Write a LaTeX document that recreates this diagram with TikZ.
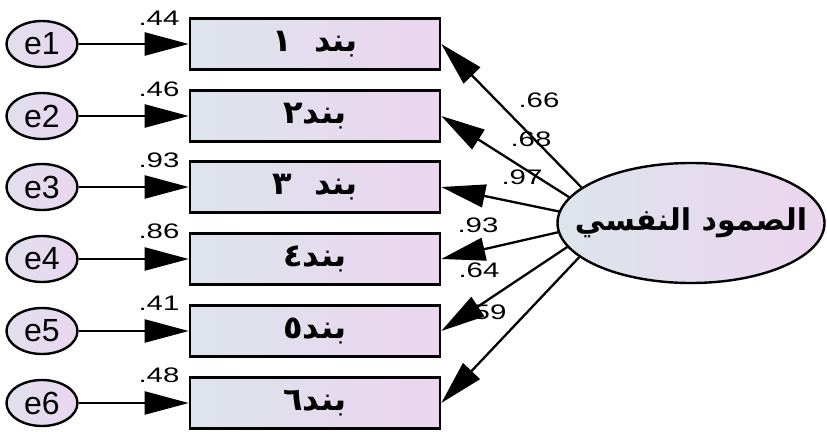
\documentclass[tikz,border=0pt]{standalone}
\usepackage{graphicx}
\usepackage{fontspec}
\setmainfont{Liberation Sans}
\newfontfamily\arabicfont[Script=Arabic]{DejaVu Sans}
\TeXXeTstate=1
\usetikzlibrary{arrows.meta,shapes.geometric}
\definecolor{boxL}{HTML}{DDE4EC}
\definecolor{boxR}{HTML}{ECD5EF}
\definecolor{errL}{HTML}{E0E0EE}
\definecolor{errR}{HTML}{EAD6EF}
\newcommand\widenum[1]{\scalebox{1.4}[1]{#1}}
\begin{document}
\begin{tikzpicture}[x=1pt,y=-1pt,
  err/.style={ellipse, draw, line width=2.4pt, minimum width=71pt, minimum height=46pt, inner sep=0pt, left color=errL, right color=errR, font=\fontsize{32}{32}\selectfont},
  item/.style={rectangle, draw, line width=2.6pt, minimum width=250pt, minimum height=51pt, inner sep=0pt, left color=boxL, right color=boxR, font=\arabicfont\bfseries\fontsize{32}{32}\selectfont},
  lat/.style={ellipse, draw, line width=2.4pt, minimum width=267pt, minimum height=120pt, inner sep=0pt, left color=boxL, right color=boxR, font=\arabicfont\bfseries\fontsize{30}{30}\selectfont},
  lbl/.style={font=\fontsize{21}{21}\selectfont, inner sep=0pt},
  arr/.style={line width=2.3pt, -{Triangle[length=44pt,width=23pt]}}
]
\useasboundingbox (0,0) rectangle (827,431);
\fill[white] (0,0) rectangle (827,431);

\node[err] (e1) at (42,44) {\makebox[0pt]{e1}};
\node[err] (e2) at (42,116) {\makebox[0pt]{e2}};
\node[err] (e3) at (42,187) {\makebox[0pt]{e3}};
\node[err] (e4) at (42,259) {\makebox[0pt]{e4}};
\node[err] (e5) at (42,331) {\makebox[0pt]{e5}};
\node[err] (e6) at (42,403) {\makebox[0pt]{e6}};

\node[item] (b1) at (315,44) {\beginR بند\ \ ١\endR};
\node[item] (b2) at (315,116) {\beginR بند٢\endR};
\node[item] (b3) at (315,187) {\beginR بند\ \ ٣\endR};
\node[item] (b4) at (315,259) {\beginR بند٤\endR};
\node[item] (b5) at (315,331) {\beginR بند٥\endR};
\node[item] (b6) at (315,403) {\beginR بند٦\endR};

\node[lat] (L) at (691,223) {\makebox[0pt]{\beginR الصمود النفسي\endR}};

\node[lbl] (l1) at (159,18) {\widenum{.44}};
\node[lbl] (l2) at (159,89) {\widenum{.46}};
\node[lbl] (l3) at (159,160) {\widenum{.93}};
\node[lbl] (l4) at (159,231) {\widenum{.86}};
\node[lbl] (l5) at (159,303) {\widenum{.41}};
\node[lbl] (l6) at (159,375) {\widenum{.48}};

\node[lbl] (r1) at (539,100) {\widenum{.66}};
\node[lbl] (r2) at (531,139) {\widenum{.68}};
\node[lbl] (r3) at (522,177) {\widenum{.97}};
\node[lbl] (r4) at (478,225) {\widenum{.93}};
\node[lbl] (r5) at (479,270) {\widenum{.64}};
\node[lbl] (r6) at (486,312) {\widenum{.59}};

\draw[arr] (e1) -- (b1);
\draw[arr] (e2) -- (b2);
\draw[arr] (e3) -- (b3);
\draw[arr] (e4) -- (b4);
\draw[arr] (e5) -- (b5);
\draw[arr] (e6) -- (b6);

\draw[arr] (L.162.5) -- (b1.east);
\draw[arr] (L.168.6) -- (b2.east);
\draw[arr] (L.175.7) -- (b3.east);
\draw[arr] (L.184.3) -- (b4.east);
\draw[arr] (L.191.4) -- (b5.east);
\draw[arr] (L.197) -- (b6.east);
\end{tikzpicture}
\end{document}
